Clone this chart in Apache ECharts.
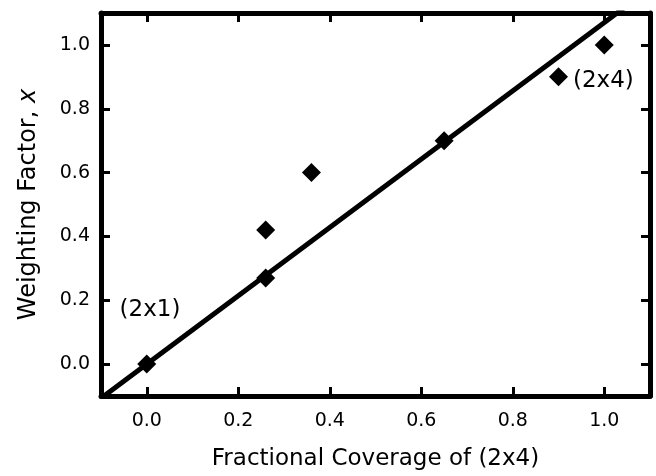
<!DOCTYPE html>
<html>
<head>
<meta charset="utf-8">
<script src="https://cdn.jsdelivr.net/npm/echarts@6/dist/echarts.min.js"></script>
<style>
  html, body { margin: 0; padding: 0; background: #fff; }
  #chart { width: 656px; height: 476px; }
</style>
</head>
<body>
<div id="chart"></div>
<script>
'use strict';

// measured points (diamonds)
var coverage = [0.0, 0.26, 0.26, 0.36, 0.65, 0.90, 1.00];
var weighting = [0.0, 0.27, 0.42, 0.60, 0.70, 0.90, 1.00];

// linear fit, y = 1.07 x
var fitX = [-0.1, 1.1];
var fitY = [-0.107, 1.177];

// tick positions, both axes
var ticks = [0.0, 0.2, 0.4, 0.6, 0.8, 1.0];

// text labels in the plot
var noteX = [0.007, 0.998];
var noteY = [0.168, 0.888];
var noteText = ['(2x1)', '(2x4)'];

var tickFont = 'DejaVu Sans';
var black = '#000';

function pairs(xs, ys) {
  return xs.map(function (x, i) { return [x, ys[i]]; });
}

var myChart = echarts.init(document.getElementById('chart'), null, { renderer: 'canvas' });

function axisBase(show, margin) {
  return {
    type: 'value',
    min: -0.1,
    max: 1.1,
    splitLine: { show: false },
    axisLine: { show: true, onZero: false, lineStyle: { color: black, width: 5 } },
    axisTick: {
      show: true, inside: true, length: 9,
      customValues: ticks,
      lineStyle: { color: black, width: 3 }
    },
    axisLabel: {
      show: show,
      customValues: ticks,
      color: black,
      fontFamily: tickFont,
      fontSize: 19,
      margin: margin,
      formatter: function (v) { return v.toFixed(1); }
    }
  };
}

var option = {
  animation: false,
  backgroundColor: '#fff',
  grid: { left: 101, right: 6, top: 13, bottom: 79 },
  xAxis: [
    Object.assign(axisBase(true, 16), {
      position: 'bottom',
      name: 'Fractional Coverage of (2x4)',
      nameLocation: 'middle',
      nameGap: 52,
      nameTextStyle: { color: black, fontFamily: tickFont, fontSize: 23 }
    }),
    Object.assign(axisBase(false, 8), { position: 'top' })
  ],
  yAxis: [
    Object.assign(axisBase(true, 11), {
      position: 'left',
      name: '{n|Weighting Factor, }{i|x}',
      nameLocation: 'middle',
      nameGap: 60,
      nameTextStyle: {
        color: black,
        fontFamily: tickFont,
        fontSize: 24,
        rich: {
          n: { fontFamily: tickFont, fontSize: 24, color: black },
          i: { fontFamily: tickFont, fontSize: 24, color: black, fontStyle: 'italic' }
        }
      }
    }),
    Object.assign(axisBase(false, 8), { position: 'right' })
  ],
  series: [
    {
      type: 'line',
      data: pairs(fitX, fitY),
      showSymbol: false,
      clip: true,
      lineStyle: { color: black, width: 5 },
      z: 2
    },
    {
      type: 'scatter',
      data: pairs(coverage, weighting),
      symbol: 'diamond',
      symbolSize: 19,
      itemStyle: { color: black, opacity: 1 },
      z: 3
    },
    {
      type: 'scatter',
      data: pairs(noteX, noteY).map(function (p, i) {
        return { value: p, name: noteText[i] };
      }),
      symbolSize: 1,
      itemStyle: { color: 'rgba(0,0,0,0)', opacity: 1 },
      label: {
        show: true,
        position: 'inside',
        formatter: '{b}',
        color: black,
        fontFamily: tickFont,
        fontSize: 23
      },
      z: 4
    }
  ]
};

myChart.setOption(option);
</script>
</body>
</html>
